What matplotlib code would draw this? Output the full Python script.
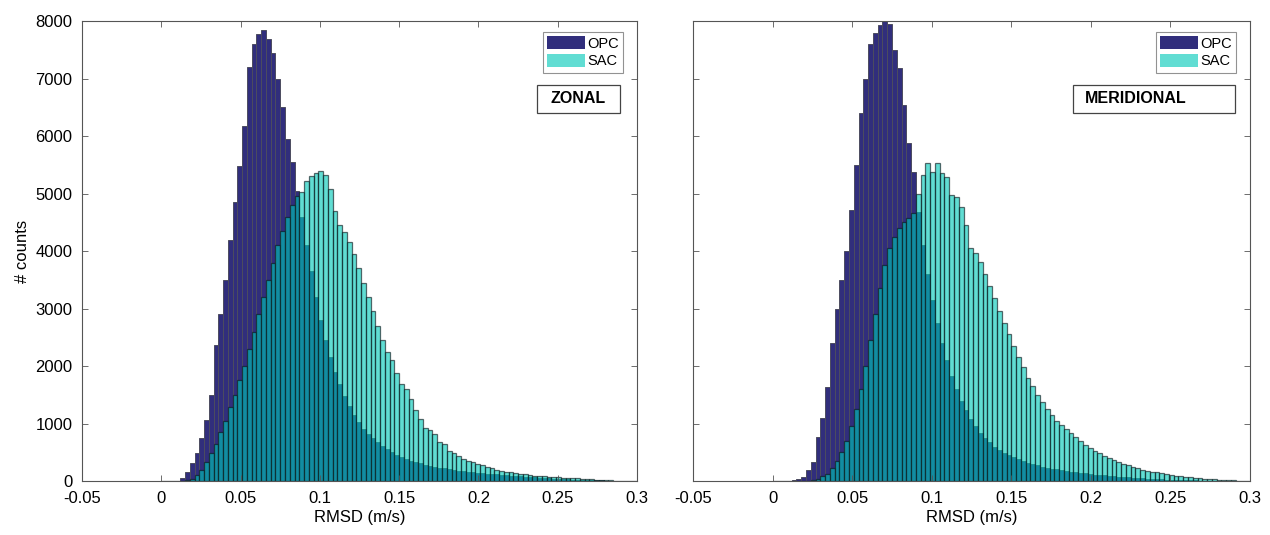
import numpy as np
import matplotlib
matplotlib.use("Agg")
import matplotlib.pyplot as plt
from matplotlib.patches import Rectangle

plt.rcParams["font.family"] = ["Liberation Sans", "DejaVu Sans"]

# histogram bins: 100 bins of 0.003 m/s between 0 and 0.3
bin_edges = np.linspace(0.0, 0.3, 101)

zonal_opc = [
    0, 0, 0, 5, 50, 160, 310, 490, 750, 1060,
    1500, 2370, 2900, 3500, 4200, 4860, 5470, 6170, 7200, 7600,
    7780, 7850, 7680, 7450, 7000, 6500, 5950, 5550, 5050, 4600,
    4100, 3650, 3200, 2800, 2450, 2150, 1900, 1680, 1480, 1300,
    1150, 1020, 910, 820, 740, 670, 610, 555, 505, 460,
    420, 385, 355, 330, 305, 285, 265, 248, 232, 218,
    205, 192, 180, 170, 160, 152, 144, 136, 128, 121,
    114, 107, 100, 94, 88, 82, 76, 70, 64, 58,
    52, 47, 42, 38, 34, 30, 26, 23, 20, 17,
    15, 13, 11, 9, 7, 6, 5, 4, 3, 2,
]
zonal_sac = [
    0, 0, 0, 0, 0, 10, 40, 100, 200, 330,
    480, 650, 850, 1050, 1280, 1500, 1750, 2000, 2300, 2600,
    2900, 3200, 3500, 3800, 4100, 4350, 4600, 4800, 4950, 5030,
    5210, 5300, 5360, 5390, 5330, 5070, 4700, 4460, 4330, 4150,
    3950, 3700, 3450, 3200, 2950, 2700, 2450, 2250, 2100, 1880,
    1680, 1600, 1420, 1230, 1080, 930, 880, 820, 680, 640,
    530, 480, 430, 390, 350, 330, 290, 270, 240, 220,
    200, 180, 160, 150, 140, 130, 115, 105, 95, 90,
    80, 75, 70, 65, 60, 55, 50, 45, 40, 35,
    30, 25, 20, 15, 10, 8, 5, 3, 2, 1,
]
merid_opc = [
    0, 0, 0, 3, 10, 30, 75, 190, 335, 770,
    1100, 1640, 2400, 3000, 3500, 4000, 4710, 5500, 6400, 7000,
    7600, 7790, 7930, 8000, 7950, 7500, 7180, 6540, 5880, 5380,
    4680, 4100, 3600, 3150, 2750, 2400, 2100, 1830, 1600, 1400,
    1230, 1080, 950, 840, 750, 670, 600, 545, 495, 450,
    410, 375, 345, 320, 295, 272, 252, 234, 217, 202,
    188, 175, 163, 152, 142, 132, 122, 113, 104, 96,
    88, 81, 74, 68, 62, 56, 51, 46, 41, 37,
    33, 29, 26, 23, 20, 17, 15, 13, 11, 9,
    8, 7, 6, 5, 4, 3, 3, 2, 2, 1,
]
merid_sac = [
    0, 0, 0, 0, 0, 0, 0, 0, 15, 40,
    80, 130, 220, 340, 500, 700, 950, 1250, 1600, 2000,
    2450, 2900, 3350, 3750, 4050, 4250, 4400, 4500, 4580, 4660,
    5000, 5320, 5530, 5380, 5530, 5350, 5290, 4970, 4940, 4770,
    4450, 4050, 3960, 3810, 3600, 3400, 3180, 2950, 2750, 2550,
    2350, 2150, 1980, 1800, 1650, 1500, 1380, 1250, 1150, 1050,
    980, 900, 830, 760, 690, 630, 570, 520, 480, 440,
    400, 360, 330, 300, 270, 245, 220, 200, 180, 165,
    150, 135, 120, 105, 95, 85, 75, 65, 55, 48,
    40, 33, 27, 22, 17, 13, 10, 7, 5, 3,
]

panels = [
    ("ZONAL", zonal_opc, zonal_sac),
    ("MERIDIONAL", merid_opc, merid_sac),
]
series_names = ["OPC", "SAC"]
x_ticks = [-0.05, 0, 0.05, 0.1, 0.15, 0.2, 0.25, 0.3]
x_tick_labels = ["-0.05", "0", "0.05", "0.1", "0.15", "0.2", "0.25", "0.3"]
y_ticks = [0, 1000, 2000, 3000, 4000, 5000, 6000, 7000, 8000]

OPC_COLOR = "#312e7c"
SAC_COLOR = "#00c8b9"

fig = plt.figure(figsize=(12.7, 5.35), dpi=100)
ax_l = fig.add_axes([0.0646, 0.1009, 0.4370, 0.8598])
ax_r = fig.add_axes([0.5457, 0.1009, 0.4386, 0.8598])

centers = 0.5 * (bin_edges[:-1] + bin_edges[1:])
width = bin_edges[1] - bin_edges[0]

for ax, (name, opc, sac) in zip([ax_l, ax_r], panels):
    ax.bar(centers, opc, width=width, color=OPC_COLOR, edgecolor="#4c4c60",
           linewidth=0.7, label=series_names[0])
    ax.bar(centers, sac, width=width, color=SAC_COLOR, alpha=0.62,
           edgecolor="#0a1418", linewidth=0.9, label=series_names[1])
    ax.set_xlim(-0.05, 0.3)
    ax.set_ylim(0, 8000)
    ax.set_xticks(x_ticks)
    ax.set_xticklabels(x_tick_labels)
    ax.set_yticks(y_ticks)
    ax.tick_params(direction="in", top=True, right=True, length=4,
                   width=0.6, color="#555555", labelsize=12, pad=7)
    for sp in ax.spines.values():
        sp.set_color("#555555")
        sp.set_linewidth(0.8)
    ax.set_xlabel("RMSD (m/s)", fontsize=12, labelpad=3)

    leg = ax.legend(loc="upper right", bbox_to_anchor=(0.975, 0.976),
                    fontsize=10.5, frameon=True, fancybox=False,
                    handlelength=2.6, handleheight=1.0, handletextpad=0.15,
                    borderpad=0.3, labelspacing=0.2, borderaxespad=0)
    leg.get_frame().set_edgecolor("#777777")
    leg.get_frame().set_linewidth(0.8)
    for h in leg.legend_handles:
        h.set_edgecolor("none")

ax_l.set_ylabel("# counts", fontsize=12, labelpad=4)
ax_r.set_yticklabels([])

# panel label boxes
ax_l.add_patch(Rectangle((0.820, 0.80), 0.149, 0.061, transform=ax_l.transAxes,
                         facecolor="white", edgecolor="#444444", linewidth=0.9, zorder=5))
ax_l.text(0.8945, 0.8305, "ZONAL", transform=ax_l.transAxes, ha="center", va="center",
          fontsize=11.5, fontweight="bold", zorder=6)
ax_r.add_patch(Rectangle((0.682, 0.80), 0.291, 0.061, transform=ax_r.transAxes,
                         facecolor="white", edgecolor="#444444", linewidth=0.9, zorder=5))
ax_r.text(0.704, 0.8305, "MERIDIONAL", transform=ax_r.transAxes, ha="left", va="center",
          fontsize=11.5, fontweight="bold", zorder=6)

fig.savefig("out.png", dpi=100)
